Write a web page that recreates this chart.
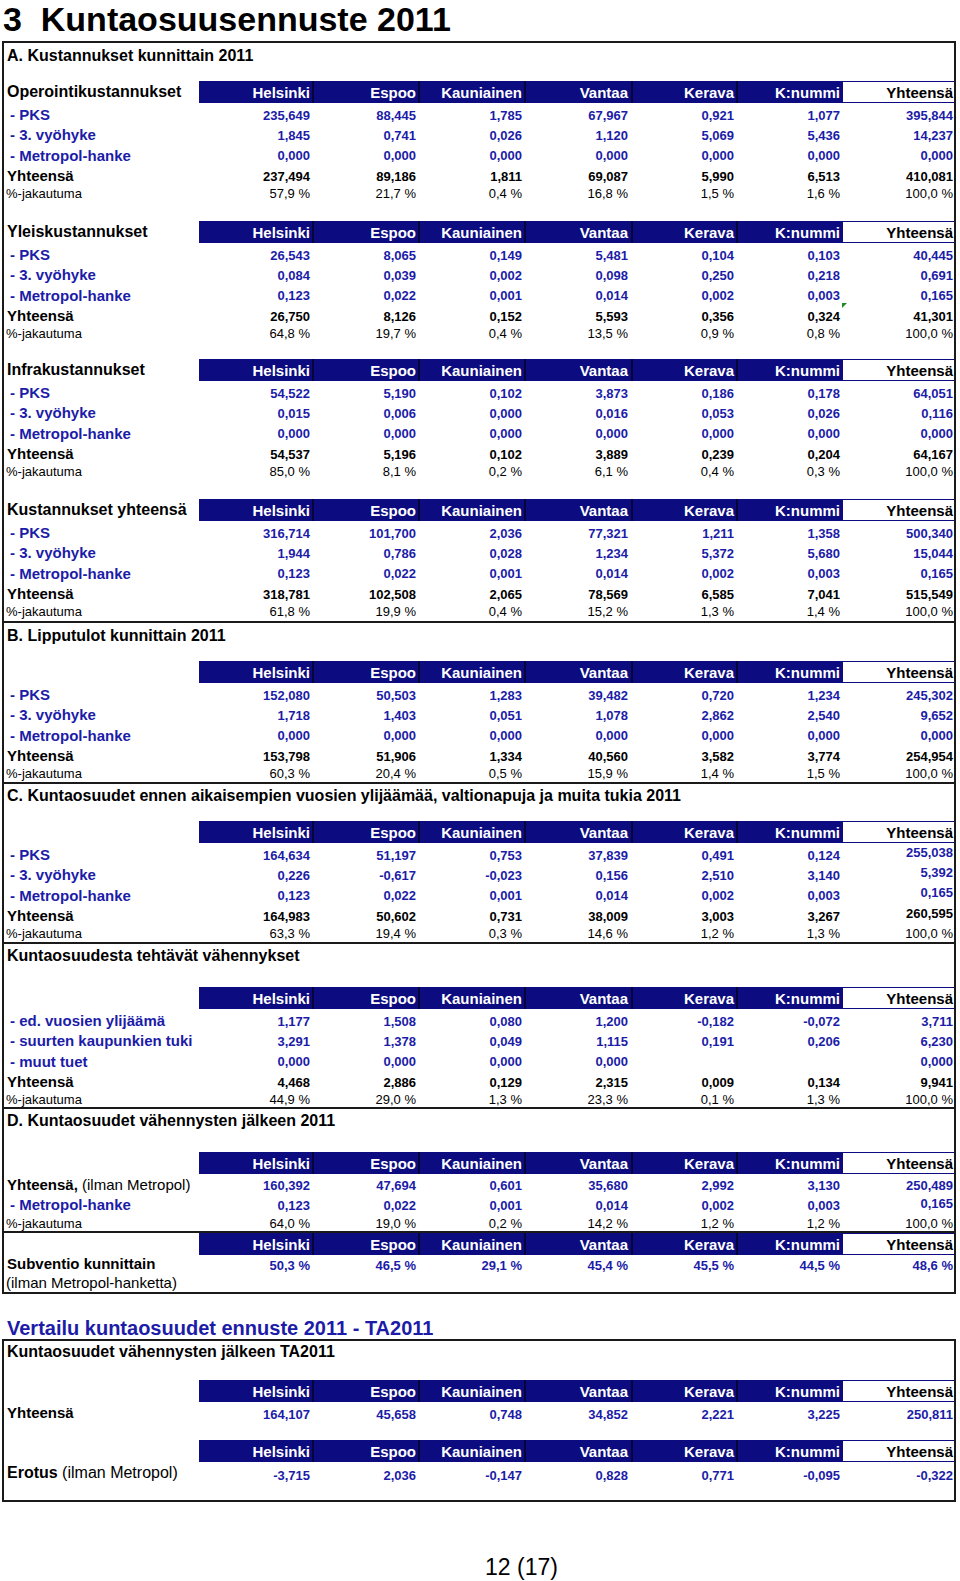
<!DOCTYPE html>
<html lang="fi">
<head>
<meta charset="utf-8">
<title>Kuntaosuusennuste 2011</title>
<script src="https://cdn.jsdelivr.net/npm/chart.js@4.4.1/dist/chart.umd.min.js"></script>
<style>
html, body { margin: 0; padding: 0; background: #fff; }
#page { position: relative; width: 960px; height: 1581px; overflow: hidden; font-family: "Liberation Sans", Arial, sans-serif; color: #000; }
.t { position: absolute; white-space: pre; line-height: 1; }
.box { position: absolute; border: 2px solid #1a1a1a; box-sizing: border-box; }
.hr { position: absolute; left: 2px; width: 954px; height: 2px; background: #1a1a1a; }
.bar { position: absolute; left: 199px; width: 644px; height: 22px; background: #0c0c80; }
.sep { position: absolute; top: 0; width: 2px; height: 22px; background: #05053a; }
.totcell { position: absolute; left: 843px; width: 111px; height: 22px; box-sizing: border-box; border-top: 1px solid #0c0c80; border-bottom: 1px solid #0c0c80; background: #fff; }
.mark { position: absolute; width: 0; height: 0; border-top: 5px solid #1f8a1f; border-right: 5px solid transparent; }
</style>
</head>
<body>
<div id="page"></div>
<script>
// Kunnat ja rivien otsikot
const cities = ['Helsinki', 'Espoo', 'Kauniainen', 'Vantaa', 'Kerava', 'K:nummi', 'Yhteensä'];
const subLabels = ['- PKS', '- 3. vyöhyke', '- Metropol-hanke'];
const cutLabels = ['- ed. vuosien ylijäämä', '- suurten kaupunkien tuki', '- muut tuet'];

// A. Operointikustannukset
const opPks = [235.649, 88.445, 1.785, 67.967, 0.921, 1.077, 395.844];
const opZone = [1.845, 0.741, 0.026, 1.120, 5.069, 5.436, 14.237];
const opMetro = [0.000, 0.000, 0.000, 0.000, 0.000, 0.000, 0.000];
const opTotal = [237.494, 89.186, 1.811, 69.087, 5.990, 6.513, 410.081];
const opShare = [57.9, 21.7, 0.4, 16.8, 1.5, 1.6, 100.0];

// Yleiskustannukset
const genPks = [26.543, 8.065, 0.149, 5.481, 0.104, 0.103, 40.445];
const genZone = [0.084, 0.039, 0.002, 0.098, 0.250, 0.218, 0.691];
const genMetro = [0.123, 0.022, 0.001, 0.014, 0.002, 0.003, 0.165];
const genTotal = [26.750, 8.126, 0.152, 5.593, 0.356, 0.324, 41.301];
const genShare = [64.8, 19.7, 0.4, 13.5, 0.9, 0.8, 100.0];

// Infrakustannukset
const infPks = [54.522, 5.190, 0.102, 3.873, 0.186, 0.178, 64.051];
const infZone = [0.015, 0.006, 0.000, 0.016, 0.053, 0.026, 0.116];
const infMetro = [0.000, 0.000, 0.000, 0.000, 0.000, 0.000, 0.000];
const infTotal = [54.537, 5.196, 0.102, 3.889, 0.239, 0.204, 64.167];
const infShare = [85.0, 8.1, 0.2, 6.1, 0.4, 0.3, 100.0];

// Kustannukset yhteensä
const allPks = [316.714, 101.700, 2.036, 77.321, 1.211, 1.358, 500.340];
const allZone = [1.944, 0.786, 0.028, 1.234, 5.372, 5.680, 15.044];
const allMetro = [0.123, 0.022, 0.001, 0.014, 0.002, 0.003, 0.165];
const allTotal = [318.781, 102.508, 2.065, 78.569, 6.585, 7.041, 515.549];
const allShare = [61.8, 19.9, 0.4, 15.2, 1.3, 1.4, 100.0];

// B. Lipputulot
const ticPks = [152.080, 50.503, 1.283, 39.482, 0.720, 1.234, 245.302];
const ticZone = [1.718, 1.403, 0.051, 1.078, 2.862, 2.540, 9.652];
const ticMetro = [0.000, 0.000, 0.000, 0.000, 0.000, 0.000, 0.000];
const ticTotal = [153.798, 51.906, 1.334, 40.560, 3.582, 3.774, 254.954];
const ticShare = [60.3, 20.4, 0.5, 15.9, 1.4, 1.5, 100.0];

// C. Kuntaosuudet ennen vähennyksiä
const munPks = [164.634, 51.197, 0.753, 37.839, 0.491, 0.124, 255.038];
const munZone = [0.226, -0.617, -0.023, 0.156, 2.510, 3.140, 5.392];
const munMetro = [0.123, 0.022, 0.001, 0.014, 0.002, 0.003, 0.165];
const munTotal = [164.983, 50.602, 0.731, 38.009, 3.003, 3.267, 260.595];
const munShare = [63.3, 19.4, 0.3, 14.6, 1.2, 1.3, 100.0];

// Vähennykset
const cutSurplus = [1.177, 1.508, 0.080, 1.200, -0.182, -0.072, 3.711];
const cutCitySupport = [3.291, 1.378, 0.049, 1.115, 0.191, 0.206, 6.230];
const cutOther = [0.000, 0.000, 0.000, 0.000, null, null, 0.000];
const cutTotal = [4.468, 2.886, 0.129, 2.315, 0.009, 0.134, 9.941];
const cutShare = [44.9, 29.0, 1.3, 23.3, 0.1, 1.3, 100.0];

// D. Vähennysten jälkeen
const netTotal = [160.392, 47.694, 0.601, 35.680, 2.992, 3.130, 250.489];
const netMetro = [0.123, 0.022, 0.001, 0.014, 0.002, 0.003, 0.165];
const netShare = [64.0, 19.0, 0.2, 14.2, 1.2, 1.2, 100.0];
const subsidy = [50.3, 46.5, 29.1, 45.4, 45.5, 44.5, 48.6];

// Vertailu TA2011
const budgetTotal = [164.107, 45.658, 0.748, 34.852, 2.221, 3.225, 250.811];
const difference = [-3.715, 2.036, -0.147, 0.828, 0.771, -0.095, -0.322];

const BLUE = '#1c1ca8';
const page = document.getElementById('page');

// sarakkeiden reunat
const colEdges = [199, 313, 419, 525, 632, 737, 843, 954];
const colRight = [310, 416, 522, 628, 734, 840, 953];
const rowOffsets = [39, 59, 79.5, 100, 117];

function num(v) {
    if (v === null) return '';
    return v.toFixed(3).replace('.', ',');
}
function pct(v) {
    return v.toFixed(1).replace('.', ',') + ' %';
}

// teksti peruslinjan mukaan
function text(parts, x, baseline, size, opts) {
    opts = opts || {};
    const d = document.createElement('div');
    d.className = 't';
    if (typeof parts === 'string') parts = [[parts, opts.bold]];
    parts.forEach(function (p) {
        const s = document.createElement('span');
        s.textContent = p[0];
        s.style.fontWeight = p[1] ? 'bold' : 'normal';
        d.appendChild(s);
    });
    d.style.fontSize = size + 'px';
    d.style.color = opts.color || '#000';
    d.style.top = (baseline - 0.8465 * size) + 'px';
    if (opts.right) d.style.right = (960 - x) + 'px';
    else d.style.left = x + 'px';
    page.appendChild(d);
    return d;
}

function el(cls, styles) {
    const d = document.createElement('div');
    d.className = cls;
    Object.assign(d.style, styles);
    page.appendChild(d);
    return d;
}

function header(top, label) {
    const bar = el('bar', { top: top + 'px' });
    for (let i = 1; i < 6; i++) {
        const s = document.createElement('div');
        s.className = 'sep';
        s.style.left = (colEdges[i] - 199 - 1) + 'px';
        bar.appendChild(s);
    }
    el('totcell', { top: top + 'px' });
    cities.forEach(function (c, i) {
        text(c, colRight[i], top + 16.5, 15, { bold: true, right: true, color: i < 6 ? '#fff' : '#000' });
    });
    if (label) text(label, 7, top + 16.5, 16, { bold: true });
}

function row(baseline, label, kind, values, totShift) {
    if (kind === 'sub') text(label, 10, baseline, 15, { bold: true, color: BLUE });
    else if (kind === 'tot') text(label, 7, baseline, 15, { bold: true });
    else if (kind === 'pct') text(label, 6, baseline, 13);
    values.forEach(function (v, i) {
        const shift = (i === 6 && totShift) ? totShift : 0;
        if (kind === 'pct') text(pct(v), colRight[i], baseline, 13, { right: true });
        else text(num(v), colRight[i], baseline - shift, 13, { bold: true, right: true, color: kind === 'sub' ? BLUE : '#000' });
    });
}

function block(barTop, label, rows, totShift) {
    header(barTop, label);
    rows.forEach(function (r, i) {
        row(barTop + rowOffsets[i], r[0], r[1], r[2], r[3] ? totShift : 0);
    });
}

// pääotsikko
text('3  Kuntaosuusennuste 2011', 3, 30.8, 34, { bold: true });

// laatikot ja erotinviivat
el('box', { left: '2px', top: '41px', width: '954px', height: '1253px' });
[621, 782, 942, 1107, 1231].forEach(function (y) { el('hr', { top: y + 'px' }); });

// A
text('A. Kustannukset kunnittain 2011', 7, 61.5, 16, { bold: true });
block(81, 'Operointikustannukset', [
    [subLabels[0], 'sub', opPks], [subLabels[1], 'sub', opZone], [subLabels[2], 'sub', opMetro],
    ['Yhteensä', 'tot', opTotal], ['%-jakautuma', 'pct', opShare]]);
block(221, 'Yleiskustannukset', [
    [subLabels[0], 'sub', genPks], [subLabels[1], 'sub', genZone], [subLabels[2], 'sub', genMetro],
    ['Yhteensä', 'tot', genTotal], ['%-jakautuma', 'pct', genShare]]);
el('mark', { left: '842px', top: '303px' });
block(359, 'Infrakustannukset', [
    [subLabels[0], 'sub', infPks], [subLabels[1], 'sub', infZone], [subLabels[2], 'sub', infMetro],
    ['Yhteensä', 'tot', infTotal], ['%-jakautuma', 'pct', infShare]]);
block(499, 'Kustannukset yhteensä', [
    [subLabels[0], 'sub', allPks], [subLabels[1], 'sub', allZone], [subLabels[2], 'sub', allMetro],
    ['Yhteensä', 'tot', allTotal], ['%-jakautuma', 'pct', allShare]]);

// B
text('B. Lipputulot kunnittain 2011', 7, 641.5, 16, { bold: true });
block(661, '', [
    [subLabels[0], 'sub', ticPks], [subLabels[1], 'sub', ticZone], [subLabels[2], 'sub', ticMetro],
    ['Yhteensä', 'tot', ticTotal], ['%-jakautuma', 'pct', ticShare]]);

// C
text('C. Kuntaosuudet ennen aikaisempien vuosien ylijäämää, valtionapuja ja muita tukia 2011', 7, 801.5, 16, { bold: true });
block(821, '', [
    [subLabels[0], 'sub', munPks, true], [subLabels[1], 'sub', munZone, true], [subLabels[2], 'sub', munMetro, true],
    ['Yhteensä', 'tot', munTotal, true], ['%-jakautuma', 'pct', munShare]], 3);

// vähennykset
text('Kuntaosuudesta tehtävät vähennykset', 7, 961.5, 16, { bold: true });
block(987, '', [
    [cutLabels[0], 'sub', cutSurplus], [cutLabels[1], 'sub', cutCitySupport], [cutLabels[2], 'sub', cutOther],
    ['Yhteensä', 'tot', cutTotal], ['%-jakautuma', 'pct', cutShare]]);

// D
text('D. Kuntaosuudet vähennysten jälkeen 2011', 7, 1127, 16, { bold: true });
header(1152, '');
text([['Yhteensä,', true], [' (ilman Metropol)', false]], 7, 1190, 15);
netTotal.forEach(function (v, i) { text(num(v), colRight[i], 1190, 13, { bold: true, right: true, color: BLUE }); });
row(1210, subLabels[2], 'sub', netMetro, 2);
row(1228, '%-jakautuma', 'pct', netShare);
header(1233, '');
text('Subventio kunnittain', 7, 1269, 15, { bold: true });
subsidy.forEach(function (v, i) { text(pct(v), colRight[i], 1270, 13, { bold: true, right: true, color: BLUE }); });
text('(ilman Metropol-hanketta)', 6, 1288, 15);

// Vertailu
text('Vertailu kuntaosuudet ennuste 2011 - TA2011', 7, 1335, 20, { bold: true, color: BLUE });
el('box', { left: '2px', top: '1339px', width: '954px', height: '163px' });
text('Kuntaosuudet vähennysten jälkeen TA2011', 7, 1358, 16, { bold: true });
header(1380, '');
text('Yhteensä', 7, 1418, 15, { bold: true });
budgetTotal.forEach(function (v, i) { text(num(v), colRight[i], 1419, 13, { bold: true, right: true, color: BLUE }); });
header(1440, '');
text([['Erotus', true], [' (ilman Metropol)', false]], 7, 1479, 16);
difference.forEach(function (v, i) { text(num(v), colRight[i], 1480, 13, { bold: true, right: true, color: BLUE }); });

// sivunumero
text('12 (17)', 485, 1575, 23);
</script>
</body>
</html>
